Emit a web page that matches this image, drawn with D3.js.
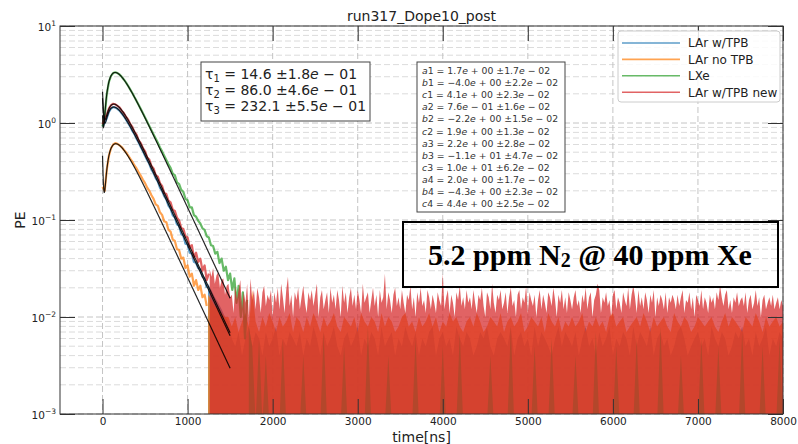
<!DOCTYPE html>
<html>
<head>
<meta charset="utf-8">
<script src="https://cdn.jsdelivr.net/npm/d3@7"></script>
<style>
  html, body { margin: 0; padding: 0; background: #fff; }
  svg { display: block; font-family: "DejaVu Sans", sans-serif; }
</style>
</head>
<body>
<svg id="chart" width="798" height="444"></svg>
<script>
// ---------------- data ----------------
const seriesNames  = ["LAr w/TPB", "LAr no TPB", "LXe", "LAr w/TPB new"];
const seriesColors = ["#1f77b4", "#ff7f0e", "#2ca02c", "#d62728"];

// shared decay constants of the triple-exponential fit (ns)
const tauValues = [14.6, 86.0, 232.1];
const tauErrors = [0.18, 0.46, 0.55];

// per-series amplitudes: f(t) = a*exp(-t/tau1) + b*exp(-t/tau2) + c*exp(-t/tau3)
const fitA    = [1.7, 0.76, 2.2, 2.0];
const fitB    = [-4.0, -2.2, -11, -4.3];
const fitC    = [4.1, 1.9, 10, 4.4];
const fitAErr = [0.017, 0.016, 0.028, 0.017];
const fitBErr = [0.022, 0.015, 0.047, 0.023];
const fitCErr = [0.023, 0.013, 0.062, 0.025];
const fitEndNs = 1500;

// waveform samples while the signal dominates, every 25 ns from t = 0 (PE)
const decayStepNs = 25;
const decayBlue   = [0.92,1.00,1.12,1.30,1.41,1.46,1.44,1.40,1.34,1.26,1.18,1.09,1.00,0.92,0.83,0.77,0.69,0.63,0.565,0.515,0.46,0.415,0.38,0.33,0.305,0.27,0.25,0.215,0.20,0.176,0.163,0.141,0.131,0.112,0.106,0.090,0.087,0.072,0.069,0.057,0.056,0.046,0.045,0.037,0.036,
                     0.032,0.031,0.026,0.025,0.020];
const decayOrange = [0.22,0.20,0.33,0.46,0.55,0.60,0.62,0.61,0.59,0.565,0.53,0.50,0.465,0.43,0.40,0.365,0.34,0.31,0.285,0.26,0.24,0.215,0.20,0.18,0.165,0.145,0.14,0.12,0.113,0.097,0.095,0.079,0.076,0.063,0.061,0.050,0.049,0.040,0.041,0.032,0.034,0.026,0.028,0.021,0.024,
                     0.019,0.021,0.016,0.017,0.013];
const decayGreen  = [0.92,1.16,1.98,2.65,3.06,3.27,3.33,3.27,3.16,2.99,2.81,2.62,2.42,2.22,2.04,1.85,1.69,1.53,1.39,1.26,1.14,1.03,0.93,0.84,0.76,0.69,0.625,0.56,0.51,0.46,0.415,0.375,0.345,0.30,0.29,0.245,0.235,0.205,0.195,0.165,0.16,0.135,0.135,0.112,0.108,
                     0.098,0.092,0.082,0.079,0.068,0.066,0.055,0.054,0.045,0.047,0.036,0.040,0.030,0.033,0.024,0.028,0.019,0.025,0.014,0.021,0.010,0.018,0.006,0.015];
const decayRed    = [0.97,1.10,1.22,1.41,1.53,1.58,1.56,1.50,1.45,1.34,1.27,1.16,1.09,0.98,0.91,0.81,0.76,0.66,0.62,0.55,0.51,0.44,0.42,0.36,0.34,0.29,0.28,0.24,0.225,0.19,0.185,0.158,0.152,0.128,0.124,0.106,0.099,0.083,0.081,0.068,0.066,0.052,0.055,0.041,0.046,
                     0.037,0.040,0.030,0.034,0.024,0.028];

// noise-dominated tail: upper envelope of each time bin (milli-PE)
const tailBlueStartNs = 1240,   tailBlueStepNs = 40;
const tailOrangeStartNs = 1240, tailOrangeStepNs = 40;
const tailGreenStartNs = 1720,  tailGreenStepNs = 40;
const tailRedStartNs = 1260,    tailRedStepNs = 20;

const tailBlueMilliPE = [
  22,19,16,14,12,10,9,
  6,5,7,4,6,8,5,7,6,4,7,5,6,8,4,6,5,7,6,5,
  7,4,6,5,8,6,4,7,5,6,8,5,4,6,7,5,6,8,4,6,
  5,7,6,4,8,5,6,7,4,6,5,8,6,5,7,4,6,5,7,8,
  4,6,7,5,6,4,8,6,5,7,6,4,5,7,6,8,5,4,6,7,
  6,5,8,4,6,7,5,6,4,8,5,7,6,5,4,6,8,5,7,6,
  5,7,4,6,8,5,6,4,7,5,6,8,4,6,5,7,6,4,8,5,
  7,6,5,8,4,6,7,5,6,4,5,7,8,6,4,5,6,7,5,6,
  4,8,6,5,7,6,4,5,7,6,8,5,6,4,7,5,6,8,4,6,
  5,7,6
];
const tailOrangeMilliPE = [
  17,15,13,12,11,10,10,
  8,10,7,9,11,8,19,9,7,10,8,11,9,7,10,8,9,11,7,10,
  9,7,10,8,11,9,7,10,8,9,11,8,7,10,9,8,10,7,11,9,
  8,10,9,7,11,8,10,9,7,8,10,11,8,9,7,10,8,9,11,8,
  10,7,9,8,11,9,10,8,7,9,10,8,11,9,7,8,10,9,8,11,
  7,9,10,8,9,11,7,8,10,9,8,10,7,11,9,8,10,7,9,8,
  10,8,9,11,7,9,8,10,8,9,7,10,11,8,9,10,7,8,9,10,
  8,11,9,7,10,8,9,10,8,7,11,9,8,10,9,7,8,10,9,8,
  9,10,8,7,9,11,8,10,9,8,7,10,9,8,11,9,7,10,8,9,
  10,8,9
];
const tailGreenMilliPE = [
  8,5,0.8,6,0.8,4,0.8,
  0.8,0.8,0.8,6,0.8,0.8,0.8,0.8,0.8,4,0.8,0.8,0.8,0.8,0.8,7,0.8,0.8,0.8,0.8,
  0.8,5,0.8,0.8,0.8,0.8,0.8,0.8,8,0.8,0.8,0.8,0.8,0.8,4,0.8,0.8,0.8,0.8,0.8,
  0.8,0.8,6,0.8,0.8,0.8,0.8,0.8,0.8,0.8,5,0.8,0.8,0.8,0.8,7,0.8,0.8,0.8,0.8,
  0.8,0.8,0.8,0.8,4,0.8,0.8,0.8,0.8,0.8,8,0.8,0.8,0.8,0.8,0.8,0.8,5,0.8,0.8,
  0.8,0.8,6,0.8,0.8,0.8,0.8,0.8,0.8,4,0.8,0.8,0.8,0.8,0.8,7,0.8,0.8,0.8,0.8,
  0.8,5,0.8,0.8,0.8,0.8,0.8,6,0.8,0.8,0.8,0.8,0.8,0.8,8,0.8,0.8,0.8,0.8,0.8,
  4,0.8,0.8,0.8,0.8,0.8,6,0.8,0.8,0.8,0.8,5,0.8,0.8,0.8,0.8,0.8,0.8,7,0.8,
  0.8,0.8,0.8,0.8,5,0.8,0.8,0.8,0.8,6,0.8
];
const tailRedMilliPE = [
  31,26,32,22,27,29,20,24,25,17,21,22,16,
  17,11,21,15,19,24,12,18,14,22,10,25,15,19,12,20,16,11,18,21,
  13,17,15,19,10,18,14,20,12,22,16,11,19,26,13,17,10,18,15,20,
  12,16,21,14,11,18,15,19,13,17,22,10,16,19,12,15,18,11,20,14,
  17,12,19,15,10,21,14,18,11,16,20,13,17,12,19,15,11,22,14,16,
  18,11,15,20,13,17,10,19,14,16,28,12,18,15,11,17,20,13,16,12,
  19,14,11,17,15,21,12,16,10,18,14,20,13,15,11,19,16,12,17,14,
  11,18,15,13,28,12,16,19,11,17,14,10,18,15,21,13,16,12,19,14,
  16,12,19,14,11,17,15,20,13,10,18,16,12,22,14,11,17,15,19,12,
  14,18,11,16,20,13,15,10,17,19,12,16,14,21,11,18,15,13,17,10,
  15,19,12,17,14,11,18,16,13,20,15,10,17,14,19,12,16,11,18,15,
  12,16,19,13,15,11,17,14,20,12,16,18,10,15,17,22,19,11,16,14,
  18,13,15,10,17,19,12,16,14,11,18,15,13,20,12,17,21,16,11,19,
  13,16,12,18,15,11,17,14,19,10,16,13,17,15,12,18,11,16,14,17,
  15,12,17,13,16,19,11,15,14,18,12,16,10,17,15,13,19,12,16,14,
  11,17,14,16,12,18,15,21,16,13,17,19,12,15,11,16,14,18,13,15,
  16,13,18,11,15,17,12,14,19,13,16,10,15,17,12,14,16,13,17,12,
  14,16,12,15,13
];

// axis ticks
const xTickValues = [0, 1000, 2000, 3000, 4000, 5000, 6000, 7000, 8000];
const yTickValues = [1e-3, 1e-2, 1e-1, 1, 10];

const titleText = "run317_Dope10_post";
const xLabelText = "time[ns]";
const yLabelText = "PE";

// ---------------- assemble series ----------------
const toPoints = (vals, start, step, scale) => vals.map((v, i) => ({ t: start + i * step, v: v * scale }));
const decayData = [decayBlue, decayOrange, decayGreen, decayRed]
  .map(arr => toPoints(arr, 0, decayStepNs, 1));
const tailData = [
  toPoints(tailBlueMilliPE,   tailBlueStartNs,   tailBlueStepNs,   1e-3),
  toPoints(tailOrangeMilliPE, tailOrangeStartNs, tailOrangeStepNs, 1e-3),
  toPoints(tailGreenMilliPE,  tailGreenStartNs,  tailGreenStepNs,  1e-3),
  toPoints(tailRedMilliPE,    tailRedStartNs,    tailRedStepNs,    1e-3)
];

function fitCurve(k) {
  return d3.range(0, fitEndNs + 1, 2).map(t => ({
    t,
    v: fitA[k] * Math.exp(-t / tauValues[0]) +
       fitB[k] * Math.exp(-t / tauValues[1]) +
       fitC[k] * Math.exp(-t / tauValues[2])
  }));
}

// ---------------- layout ----------------
const svg = d3.select("#chart");
const plot = { left: 60, right: 783, top: 26, bottom: 414 };

const x = d3.scaleLinear().domain([-500, 8000]).range([plot.left, plot.right]);
const y = d3.scaleLog().domain([1e-3, 10]).range([plot.bottom, plot.top]);

svg.append("rect").attr("width", 798).attr("height", 444).attr("fill", "#fff");

// grid
const grid = svg.append("g");
const minorY = [];
for (let d = -3; d < 1; d++) for (let m = 2; m < 10; m++) minorY.push(m * Math.pow(10, d));
grid.selectAll("line.ymin").data(minorY).join("line")
  .attr("x1", plot.left).attr("x2", plot.right)
  .attr("y1", d => y(d)).attr("y2", d => y(d))
  .attr("stroke", "#d2d2d2").attr("stroke-width", 0.8).attr("stroke-dasharray", "6,3");
grid.selectAll("line.ymaj").data(yTickValues).join("line")
  .attr("x1", plot.left).attr("x2", plot.right)
  .attr("y1", d => y(d)).attr("y2", d => y(d))
  .attr("stroke", "#bdbdbd").attr("stroke-width", 0.9).attr("stroke-dasharray", "6,3");
grid.selectAll("line.xmaj").data(xTickValues).join("line")
  .attr("x1", d => x(d)).attr("x2", d => x(d))
  .attr("y1", plot.top).attr("y2", plot.bottom)
  .attr("stroke", "#bdbdbd").attr("stroke-width", 0.9).attr("stroke-dasharray", "6,3");

// clip for data
svg.append("clipPath").attr("id", "plotClip")
  .append("rect").attr("x", plot.left).attr("y", plot.top)
  .attr("width", plot.right - plot.left).attr("height", plot.bottom - plot.top);

const dataG = svg.append("g").attr("clip-path", "url(#plotClip)");
const line = d3.line().x(d => x(d.t)).y(d => y(Math.max(d.v, 1e-5)));
const band = d3.area().x(d => x(d.t)).y0(plot.bottom + 2).y1(d => y(Math.max(d.v, 1e-5)));
const seriesAlpha = 0.72;

[0, 1, 2, 3].forEach(k => {
  const g = dataG.append("g");
  g.append("path").datum(tailData[k])
    .attr("d", band)
    .attr("fill", seriesColors[k])
    .attr("fill-opacity", seriesAlpha);
  g.append("path").datum(decayData[k])
    .attr("d", line)
    .attr("fill", "none")
    .attr("stroke", seriesColors[k])
    .attr("stroke-opacity", seriesAlpha)
    .attr("stroke-width", 2.2)
    .attr("stroke-linejoin", "round");
});

[0, 1, 2, 3].forEach(k => {
  dataG.append("path").datum(fitCurve(k))
    .attr("d", line)
    .attr("fill", "none")
    .attr("stroke", "#000")
    .attr("stroke-opacity", 0.85)
    .attr("stroke-width", 1.2);
});

// axes: ticks point inward on all four sides
const tickLen = 15;
const axB = svg.append("g").attr("transform", `translate(0,${plot.bottom})`)
  .call(d3.axisBottom(x).tickValues(xTickValues).tickFormat(d3.format("d"))
    .tickSizeInner(-tickLen).tickSizeOuter(0).tickPadding(4));
const axT = svg.append("g").attr("transform", `translate(0,${plot.top})`)
  .call(d3.axisTop(x).tickValues(xTickValues).tickSizeInner(-tickLen).tickSizeOuter(0).tickFormat(""));
const axL = svg.append("g").attr("transform", `translate(${plot.left},0)`)
  .call(d3.axisLeft(y).tickValues(yTickValues).tickSizeInner(-tickLen).tickSizeOuter(0).tickPadding(4));
const axR = svg.append("g").attr("transform", `translate(${plot.right},0)`)
  .call(d3.axisRight(y).tickValues(yTickValues).tickSizeInner(-tickLen).tickSizeOuter(0).tickFormat(""));

[axB, axT, axL, axR].forEach(g => {
  g.select(".domain").remove();
  g.selectAll(".tick line").attr("stroke", "#333").attr("stroke-width", 1);
});
axB.selectAll(".tick text")
  .attr("font-family", "DejaVu Sans").attr("font-size", 10.5).attr("fill", "#222");

axL.selectAll(".tick text").each(function (d) {
  const t = d3.select(this).text("")
    .attr("font-family", "DejaVu Sans").attr("font-size", 10.5).attr("fill", "#222")
    .attr("dy", "0.45em");
  const e = Math.round(Math.log10(d));
  t.append("tspan").text("10");
  t.append("tspan").attr("font-size", 7.5).attr("dy", "-0.75em")
    .text(e < 0 ? "\u2212" + Math.abs(e) : String(e));
});

// frame
svg.append("rect")
  .attr("x", plot.left).attr("y", plot.top)
  .attr("width", plot.right - plot.left).attr("height", plot.bottom - plot.top)
  .attr("fill", "none").attr("stroke", "#333").attr("stroke-width", 1);

// title and axis labels
svg.append("text").attr("x", (plot.left + plot.right) / 2).attr("y", 21)
  .attr("text-anchor", "middle").attr("font-size", 14).attr("fill", "#222").text(titleText);
svg.append("text").attr("x", (plot.left + plot.right) / 2).attr("y", 442)
  .attr("text-anchor", "middle").attr("font-size", 14).attr("fill", "#222").text(xLabelText);
svg.append("text").attr("transform", `translate(25,${(plot.top + plot.bottom) / 2}) rotate(-90)`)
  .attr("text-anchor", "middle").attr("font-size", 14).attr("fill", "#222").text(yLabelText);

// legend
const legend = svg.append("g").attr("transform", "translate(618,31)");
legend.append("rect").attr("width", 162).attr("height", 71).attr("rx", 3)
  .attr("fill", "#fff").attr("fill-opacity", 0.85).attr("stroke", "#cccccc");
seriesNames.forEach((name, i) => {
  const yy = 12 + i * 16.4;
  legend.append("line").attr("x1", 4).attr("x2", 62).attr("y1", yy).attr("y2", yy)
    .attr("stroke", seriesColors[i]).attr("stroke-opacity", seriesAlpha).attr("stroke-width", 1.6);
  legend.append("text").attr("x", 70).attr("y", yy + 4.3)
    .attr("font-size", 12).attr("fill", "#222").text(name);
});

// number formatting helpers (mathtext-like scientific notation)
function sci(v) {
  const s = Math.abs(v).toExponential(1);
  const [m, e] = s.split("e");
  const en = parseInt(e, 10);
  return { neg: v < 0, m, esign: en < 0 ? "\u2212" : "+", e: String(Math.abs(en)).padStart(2, "0") };
}
function sciParts(v) {
  const p = sci(v);
  return [
    { t: (p.neg ? "\u2212" : "") + p.m },
    { t: "e", it: true },
    { t: " " + p.esign + " " + p.e }
  ];
}
function writeParts(textSel, parts) {
  parts.forEach(p => {
    const ts = textSel.append("tspan").text(p.t);
    if (p.it) ts.attr("font-style", "italic");
    if (p.sub) ts.attr("font-size", p.sub).attr("dy", p.dy);
    if (p.back) ts.attr("dy", p.back);
  });
}

// fitted time constants box
const tauG = svg.append("g");
tauG.append("rect").attr("x", 201).attr("y", 62).attr("width", 169).attr("height", 59)
  .attr("fill", "#fff").attr("stroke", "#444").attr("stroke-width", 1);
tauValues.forEach((tv, i) => {
  const t = tauG.append("text").attr("x", 205).attr("y", 78.5 + i * 16.4)
    .attr("font-size", 14).attr("fill", "#222");
  writeParts(t, [
    { t: "\u03c4" },
    { t: String(i + 1), sub: 10, dy: 3 },
    { t: " = " + tv.toFixed(1) + " \u00b1", back: -3 },
    ...sciParts(tauErrors[i])
  ]);
});

// amplitude parameters box
const parG = svg.append("g");
parG.append("rect").attr("x", 417).attr("y", 62).attr("width", 148).attr("height", 150)
  .attr("fill", "#fff").attr("stroke", "#444").attr("stroke-width", 1);
const parRows = [];
fitA.forEach((_, k) => {
  parRows.push({ n: "a", k, v: fitA[k], e: fitAErr[k] });
  parRows.push({ n: "b", k, v: fitB[k], e: fitBErr[k] });
  parRows.push({ n: "c", k, v: fitC[k], e: fitCErr[k] });
});
parRows.forEach((r, i) => {
  const t = parG.append("text").attr("x", 422).attr("y", 74 + i * 12.1)
    .attr("font-size", 9.3).attr("fill", "#333");
  writeParts(t, [
    { t: r.n, it: true },
    { t: String(r.k + 1) + " = " },
    ...sciParts(r.v),
    { t: " \u00b1" },
    ...sciParts(r.e)
  ]);
});

// annotation
svg.append("rect").attr("x", 403).attr("y", 222).attr("width", 375).attr("height", 65)
  .attr("fill", "none").attr("stroke", "#000").attr("stroke-width", 2);
const ann = svg.append("text").attr("x", 590).attr("y", 265).attr("text-anchor", "middle")
  .attr("font-family", "'Liberation Serif', 'Times New Roman', serif")
  .attr("font-weight", "bold").attr("font-size", 30).attr("fill", "#000");
ann.append("tspan").text("5.2 ppm N");
ann.append("tspan").attr("font-size", 20).attr("dy", 2).text("2");
ann.append("tspan").attr("dy", -2).text(" @ 40 ppm Xe");
</script>
</body>
</html>
